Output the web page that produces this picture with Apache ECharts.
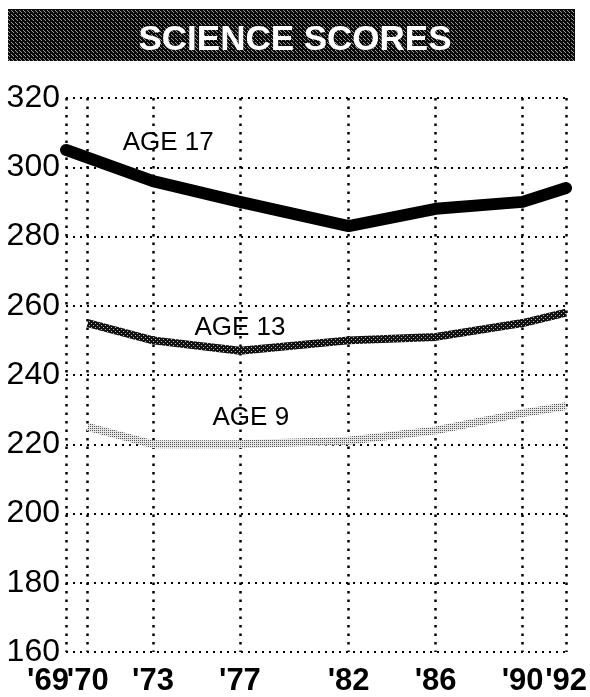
<!DOCTYPE html>
<html>
<head>
<meta charset="utf-8">
<script src="https://cdn.jsdelivr.net/npm/echarts@6/dist/echarts.min.js"></script>
<style>
html, body { margin: 0; padding: 0; background: #fff; }
#chart { width: 590px; height: 697px; }
</style>
</head>
<body>
<div id="chart"></div>
<script>
// NAEP science scores by age
var years17 = [1969, 1973, 1977, 1982, 1986, 1990, 1992];
var age17 = [305, 296, 290, 283, 288, 290, 294];
var years = [1970, 1973, 1977, 1982, 1986, 1990, 1992];
var age13 = [255, 250, 247, 250, 251, 255, 258];
var age9 = [225, 220, 220, 221, 224, 229, 231];
var tickYears = [1969, 1970, 1973, 1977, 1982, 1986, 1990, 1992];
var seriesNames = ['AGE 17', 'AGE 13', 'AGE 9'];

function pairs(xs, ys) {
    return xs.map(function (x, i) { return [x, ys[i]]; });
}

function yearLabel(v) {
    return "'" + String(v).slice(2);
}

// small halftone textures like the printed original
function makePattern(bg, fg, cells) {
    var c = document.createElement('canvas');
    c.width = 4; c.height = 4;
    var ctx = c.getContext('2d');
    ctx.fillStyle = bg;
    ctx.fillRect(0, 0, 4, 4);
    ctx.fillStyle = fg;
    cells.forEach(function (p) { ctx.fillRect(p[0], p[1], 1, 1); });
    return c;
}

var dark = makePattern('#111', '#bbb', [[1, 1], [3, 3]]);
var light = makePattern('#e6e6e6', '#555', [[0, 0], [2, 2], [2, 0], [0, 2]]);
var banner = makePattern('#0a0a0a', '#9a9a9a', [[1, 0], [3, 2], [0, 3]]);

var chartDom = document.getElementById('chart');
var myChart = echarts.init(chartDom);
var option;

var dotH = { color: '#000', width: 2, type: [2, 5] };
var dotV = { color: '#000', width: 2.5, type: [2.5, 6] };

function labelPoint(text, x, y) {
    return {
        symbol: 'circle',
        symbolSize: 0,
        label: {
            show: true,
            position: 'inside',
            formatter: text,
            color: '#000',
            fontSize: 26,
            fontFamily: 'Liberation Sans'
        },
        data: [{ coord: [x, y] }]
    };
}

var xLabelStyle = { fontSize: 31, fontWeight: 'bold', fontFamily: 'Liberation Sans', color: '#000' };

option = {
    animation: false,
    backgroundColor: '#fff',
    title: {
        text: 'SCIENCE SCORES',
        left: 'center',
        top: 18,
        textStyle: {
            color: '#fff',
            fontSize: 35,
            fontWeight: 900,
            fontFamily: 'Liberation Sans'
        }
    },
    graphic: [{
        type: 'rect',
        shape: { x: 8, y: 9, width: 567, height: 52 },
        style: { fill: { image: banner, repeat: 'repeat' } },
        z: 0
    }],
    grid: { left: 66, right: 13, top: 98, bottom: 42 },
    xAxis: [
        {
            type: 'value',
            min: 1969,
            max: 1992,
            axisLine: { show: false },
            axisTick: { show: false, customValues: tickYears },
            splitLine: { show: true, customValues: tickYears, lineStyle: dotV },
            axisLabel: {
                customValues: tickYears.slice(1),
                showMinLabel: true,
                showMaxLabel: true,
                hideOverlap: false,
                margin: 14,
                formatter: yearLabel,
                color: '#000',
                fontSize: 31,
                fontWeight: 'bold',
                fontFamily: 'Liberation Sans'
            }
        },
        {
            // the first year label sits a little left of its grid line
            type: 'value',
            position: 'bottom',
            min: 1969,
            max: 1992,
            axisLine: { show: false },
            axisTick: { show: false },
            splitLine: { show: false },
            axisLabel: {
                customValues: tickYears.slice(0, 1),
                showMinLabel: true,
                margin: 14,
                formatter: function (v) { return '{l|' + yearLabel(v) + '}'; },
                rich: {
                    l: Object.assign({ padding: [0, 36, 0, 0] }, xLabelStyle)
                }
            }
        }
    ],
    yAxis: {
        type: 'value',
        min: 160,
        max: 320,
        interval: 20,
        axisLine: { show: false },
        axisTick: { show: false },
        splitLine: { show: true, lineStyle: dotH },
        axisLabel: {
            margin: 6,
            color: '#000',
            fontSize: 32,
            fontFamily: 'Liberation Sans'
        }
    },
    series: [
        {
            name: seriesNames[2],
            type: 'line',
            data: pairs(years, age9),
            symbol: 'none',
            lineStyle: { width: 8, color: { image: light, repeat: 'repeat' } },
            markPoint: labelPoint(seriesNames[2], 1977.5, 227.6)
        },
        {
            name: seriesNames[1],
            type: 'line',
            data: pairs(years, age13),
            symbol: 'none',
            lineStyle: { width: 8, color: { image: dark, repeat: 'repeat' } },
            markPoint: labelPoint(seriesNames[1], 1977, 253.5)
        },
        {
            name: seriesNames[0],
            type: 'line',
            data: pairs(years17, age17),
            symbol: 'none',
            lineStyle: { width: 12, color: '#000', cap: 'round', join: 'round' },
            markPoint: labelPoint(seriesNames[0], 1973.7, 307)
        }
    ]
};

option && myChart.setOption(option);
window.addEventListener('resize', function () {
    myChart.resize();
});
</script>
</body>
</html>
